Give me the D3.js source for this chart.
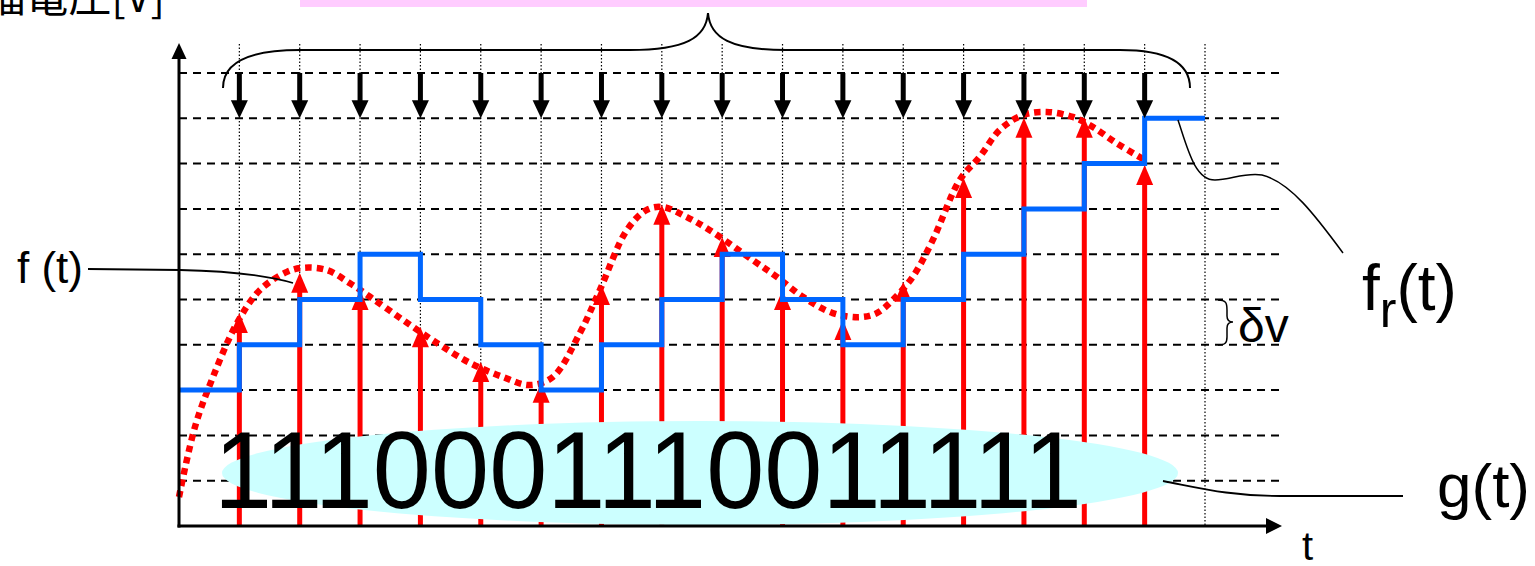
<!DOCTYPE html>
<html>
<head>
<meta charset="utf-8">
<script src="https://cdn.jsdelivr.net/npm/d3@7"></script>
<style>
html,body{margin:0;padding:0;background:#fff;overflow:hidden;}
svg{display:block;}
text{font-family:"Liberation Sans",Arial,sans-serif;fill:#000;}
</style>
</head>
<body>
<svg id="chart" width="1535" height="566"></svg>
<script>
// ---- data ----
const sampleTimes   = [1,2,3,4,5,6,7,8,9,10,11,12,13,14,15,16];
const sampleValues  = [4.70,5.59,5.21,4.39,3.62,3.16,5.32,7.09,6.38,5.21,4.55,5.39,7.68,9.01,9.01,7.97];
const bits          = ["1","1","1","0","0","0","1","1","1","0","0","1","1","1","1","1"];
const quantStart    = 3;
const quantLevels   = [4,5,6,5,4,3,4,5,6,5,4,5,6,7,8,9];
const curveT = [0,0.265,0.563,0.961,1.342,1.789,2.054,2.451,2.832,3.164,3.710,4.273,4.820,5.366,5.814,6.195,6.642,6.973,7.420,7.752,8.017,8.414,8.795,9.507,9.905,10.335,10.832,11.280,11.561,11.826,12.157,12.489,12.936,13.267,13.598,13.979,14.377,14.807,15.139,15.536,16.0];
const curveV = [0.64,2.19,3.29,4.48,5.21,5.61,5.70,5.65,5.36,5.06,4.55,4.04,3.60,3.29,3.11,3.29,4.26,5.21,6.53,6.98,7.04,6.82,6.53,5.87,5.50,5.06,4.70,4.61,4.70,4.99,5.50,6.31,7.64,8.15,8.74,9.07,9.14,9.03,8.81,8.45,8.08];
const gridLevels = [1,2,3,4,5,6,7,8,9,10];
const gridTimes  = [1,2,3,4,5,6,7,8,9,10,11,12,13,14,15,16,17];

const svg = d3.select("#chart");
const x = d3.scaleLinear().domain([0,17]).range([179,1205]);
const y = d3.scaleLinear().domain([0,10]).range([526,73]);
const X0 = x(0), Y0 = y(0);
const xEnd = 1282, yTop = 43;

// pink box (top, cut off)
svg.append("rect").attr("x",300).attr("y",-30).attr("width",787).attr("height",37).attr("fill","#FFCCFF");

// y-axis title (cut off at top, as in the reference)
svg.append("text").attr("x",165).attr("y",12).attr("text-anchor","end")
  .style("font-family","'Noto Sans CJK JP',sans-serif").style("font-size","43px")
  .text("振幅電圧[V]");

// dashed horizontal grid
svg.append("g").selectAll("line").data(gridLevels).join("line")
  .attr("x1",X0).attr("x2",1280).attr("y1",d=>y(d)).attr("y2",d=>y(d))
  .attr("stroke","#000").attr("stroke-width",2).attr("stroke-dasharray","8,6");

// dotted vertical grid
svg.append("g").selectAll("line").data(gridTimes).join("line")
  .attr("x1",d=>x(d)).attr("x2",d=>x(d)).attr("y1",44).attr("y2",Y0)
  .attr("stroke","#000").attr("stroke-width",1.2).attr("stroke-dasharray","1.5,2");

// f(t) red dotted curve
const pts = curveT.map((t,i)=>[t,curveV[i]]);
svg.append("path").datum(pts)
  .attr("d", d3.line().x(d=>x(d[0])).y(d=>y(d[1])).curve(d3.curveCatmullRom))
  .attr("fill","none").attr("stroke","#FF0000").attr("stroke-width",6.5).attr("stroke-dasharray","6.5,5");

// red sample arrows
const red = svg.append("g");
sampleTimes.forEach((t,i)=>{
  const cx = x(t), ty = y(sampleValues[i]);
  red.append("line").attr("x1",cx).attr("x2",cx).attr("y1",Y0).attr("y2",ty+15)
    .attr("stroke","#FF0000").attr("stroke-width",5);
  red.append("path").attr("d",`M${cx},${ty} L${cx-8.5},${ty+20} L${cx+8.5},${ty+20} Z`).attr("fill","#FF0000");
});

// blue quantized step line
const stepPts = [[0,quantStart]].concat(sampleTimes.map((t,i)=>[t,quantLevels[i]])).concat([[17,quantLevels[quantLevels.length-1]]]);
svg.append("path").datum(stepPts)
  .attr("d", d3.line().x(d=>x(d[0])).y(d=>y(d[1])).curve(d3.curveStepAfter))
  .attr("fill","none").attr("stroke","#0066FF").attr("stroke-width",5).attr("stroke-linejoin","miter");

// ellipse with bits
svg.append("ellipse").attr("cx",700).attr("cy",473).attr("rx",478).attr("ry",52).attr("fill","#CCFFFF");
svg.append("text").attr("transform","translate(214,508) scale(1,1.09)")
  .attr("textLength",868).attr("lengthAdjust","spacingAndGlyphs")
  .style("font-size","100px").text(bits.join(""));

// black sampling arrows
const blk = svg.append("g");
sampleTimes.forEach(t=>{
  const cx = x(t);
  blk.append("line").attr("x1",cx).attr("x2",cx).attr("y1",y(10)).attr("y2",y(9)-14)
    .attr("stroke","#000").attr("stroke-width",5);
  blk.append("path").attr("d",`M${cx},${y(9)} L${cx-8.5},${y(9)-18} L${cx+8.5},${y(9)-18} Z`).attr("fill","#000");
});

// top brace
svg.append("path")
  .attr("d","M223,88 C223,62 250,50 300,50 L630,50 C685,50 706,38 708,13 C710,38 731,50 786,50 L1120,50 C1165,50 1190,62 1190,88")
  .attr("fill","none").attr("stroke","#000").attr("stroke-width",2);

// axes
svg.append("line").attr("x1",X0).attr("x2",X0).attr("y1",Y0+1.5).attr("y2",yTop+12).attr("stroke","#000").attr("stroke-width",3);
svg.append("path").attr("d",`M${X0},${yTop} L${X0-7.5},${yTop+16} L${X0+7.5},${yTop+16} Z`).attr("fill","#000");
svg.append("line").attr("x1",X0-1.5).attr("x2",xEnd-12).attr("y1",Y0).attr("y2",Y0).attr("stroke","#000").attr("stroke-width",3);
svg.append("path").attr("d",`M${xEnd},${Y0} L${xEnd-16},${Y0-8} L${xEnd-16},${Y0+8} Z`).attr("fill","#000");

// labels & leaders
svg.append("text").attr("x",1302).attr("y",560).style("font-size","40px").text("t");

svg.append("text").attr("x",17).attr("y",283).style("font-size","44px").text("f (t)");
svg.append("path").attr("d","M88,269 L180,270 C230,271 265,275 293,283")
  .attr("fill","none").attr("stroke","#000").attr("stroke-width",1.8);

const fr = svg.append("text").attr("x",1362).attr("y",310).style("font-size","64px");
fr.append("tspan").text("f");
fr.append("tspan").attr("dy",17).style("font-size","50px").text("r");
fr.append("tspan").attr("dy",-17).text("(t)");
svg.append("path").attr("d","M1178,120 C1188,150 1195,180 1215,180 C1230,180 1245,172 1262,175 C1290,182 1315,215 1343,253")
  .attr("fill","none").attr("stroke","#000").attr("stroke-width",1.5);

svg.append("text").attr("x",1437).attr("y",507).style("font-size","62px").text("g(t)");
svg.append("path").attr("d","M1163,481 C1200,488 1230,496 1280,496 L1403,496")
  .attr("fill","none").attr("stroke","#000").attr("stroke-width",1.8);

svg.append("path").attr("d","M1218,300 C1226,300 1227,303 1227,310 L1227,316 C1227,320 1229,322 1233,322 C1229,322 1227,324 1227,328 L1227,337 C1227,343 1225,345 1218,345")
  .attr("fill","none").attr("stroke","#000").attr("stroke-width",1.5);
svg.append("text").attr("x",1238).attr("y",342).style("font-size","48px").text("δv");
</script>
</body>
</html>
